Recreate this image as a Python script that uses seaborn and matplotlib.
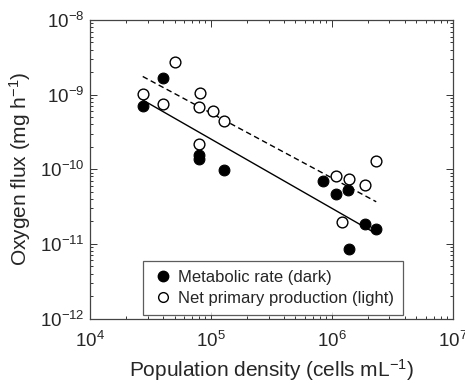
import numpy as np
import pandas as pd
import matplotlib
matplotlib.use("Agg")
import matplotlib.pyplot as plt
import seaborn as sns
from matplotlib.lines import Line2D
from matplotlib.ticker import LogLocator, NullFormatter

# ---- data ----
dark_density = [2.73e4, 4.04e4, 7.98e4, 8.03e4, 1.28e5, 8.44e5, 1.09e6, 1.37e6, 1.39e6, 1.89e6, 2.33e6]
dark_flux = [7.0e-10, 1.66e-9, 1.54e-10, 1.36e-10, 9.9e-11, 6.9e-11, 4.72e-11, 5.34e-11, 8.6e-12, 1.87e-11, 1.6e-11]
light_density = [5.05e4, 2.73e4, 4.04e4, 8.14e4, 7.9e4, 1.04e5, 1.28e5, 8.03e4, 1.09e6, 1.39e6, 1.89e6, 2.33e6, 1.21e6]
light_flux = [2.7e-9, 1.02e-9, 7.45e-10, 1.04e-9, 6.8e-10, 6.0e-10, 4.4e-10, 2.21e-10, 8.1e-11, 7.3e-11, 6.1e-11, 1.29e-10, 1.96e-11]
series_labels = ["Metabolic rate (dark)", "Net primary production (light)"]
x_label = "Population density (cells mL$^{\u22121}$)"
y_label = "Oxygen flux (mg h$^{\u22121}$)"

sns.set_style("ticks")
plt.rcParams["font.family"] = ["Liberation Sans", "DejaVu Sans"]
plt.rcParams["mathtext.fontset"] = "custom"
plt.rcParams["mathtext.rm"] = "Liberation Sans"
plt.rcParams["mathtext.it"] = "Liberation Sans:italic"
plt.rcParams["mathtext.bf"] = "Liberation Sans:bold"
plt.rcParams["axes.unicode_minus"] = True


def rma_fit(x, y):
    lx, ly = np.log10(np.asarray(x)), np.log10(np.asarray(y))
    r = np.corrcoef(lx, ly)[0, 1]
    slope = np.sign(r) * ly.std() / lx.std()
    icpt = ly.mean() - slope * lx.mean()
    xs = np.array([lx.min(), lx.max()])
    return 10 ** xs, 10 ** (icpt + slope * xs)


fig = plt.figure(figsize=(4.65, 3.83), dpi=100)
ax = fig.add_axes([90 / 465, 1 - 318.5 / 383, (452.7 - 90) / 465, (318.5 - 20) / 383])
ax.set_xscale("log")
ax.set_yscale("log")

fx, fy = rma_fit(dark_density, dark_flux)
sns.lineplot(x=fx, y=fy, color="black", linewidth=1.0, ax=ax)
lx_, ly_ = rma_fit(light_density, light_flux)
sns.lineplot(x=lx_, y=ly_, color="black", linewidth=1.0, linestyle=(0, (4, 2.5)), ax=ax)

sns.scatterplot(x=dark_density, y=dark_flux, color="black", edgecolor="black",
                linewidth=0.8, s=60, ax=ax, zorder=3)
sns.scatterplot(x=light_density, y=light_flux, color="white", edgecolor="black",
                linewidth=1.0, s=60, ax=ax, zorder=3)

ax.set_xlim(1e4, 1e7)
ax.set_ylim(1e-12, 1e-8)
ax.xaxis.set_minor_locator(LogLocator(base=10, subs=np.arange(2, 10), numticks=20))
ax.yaxis.set_minor_locator(LogLocator(base=10, subs=np.arange(2, 10), numticks=20))
ax.xaxis.set_minor_formatter(NullFormatter())
ax.yaxis.set_minor_formatter(NullFormatter())
ax.tick_params(which="both", direction="in", top=True, right=True, labelsize=13.5,
               color="#333333", width=0.7)
ax.tick_params(which="major", length=5)
ax.tick_params(which="minor", length=2.5)
ax.tick_params(axis="x", which="major", pad=9)
ax.tick_params(axis="y", which="major", pad=4)
for s in ax.spines.values():
    s.set_color("#444444")
    s.set_linewidth(0.9)

ax.set_xlabel(x_label, fontsize=15, labelpad=4)
ax.set_ylabel(y_label, fontsize=15, labelpad=5)

handles = [
    Line2D([], [], marker="o", linestyle="none", markerfacecolor="black",
           markeredgecolor="black", markersize=7.5),
    Line2D([], [], marker="o", linestyle="none", markerfacecolor="white",
           markeredgecolor="black", markersize=7, markeredgewidth=1.0),
]
leg = ax.legend(handles, series_labels, loc="lower left", bbox_to_anchor=(0.145, 0.012),
                borderaxespad=0, fontsize=12, frameon=True, fancybox=False,
                handletextpad=0.25, handlelength=1.3, borderpad=0.55, labelspacing=0.35)
leg.get_frame().set_edgecolor("#333333")
leg.get_frame().set_linewidth(0.9)

fig.savefig("out.png", dpi=100)
